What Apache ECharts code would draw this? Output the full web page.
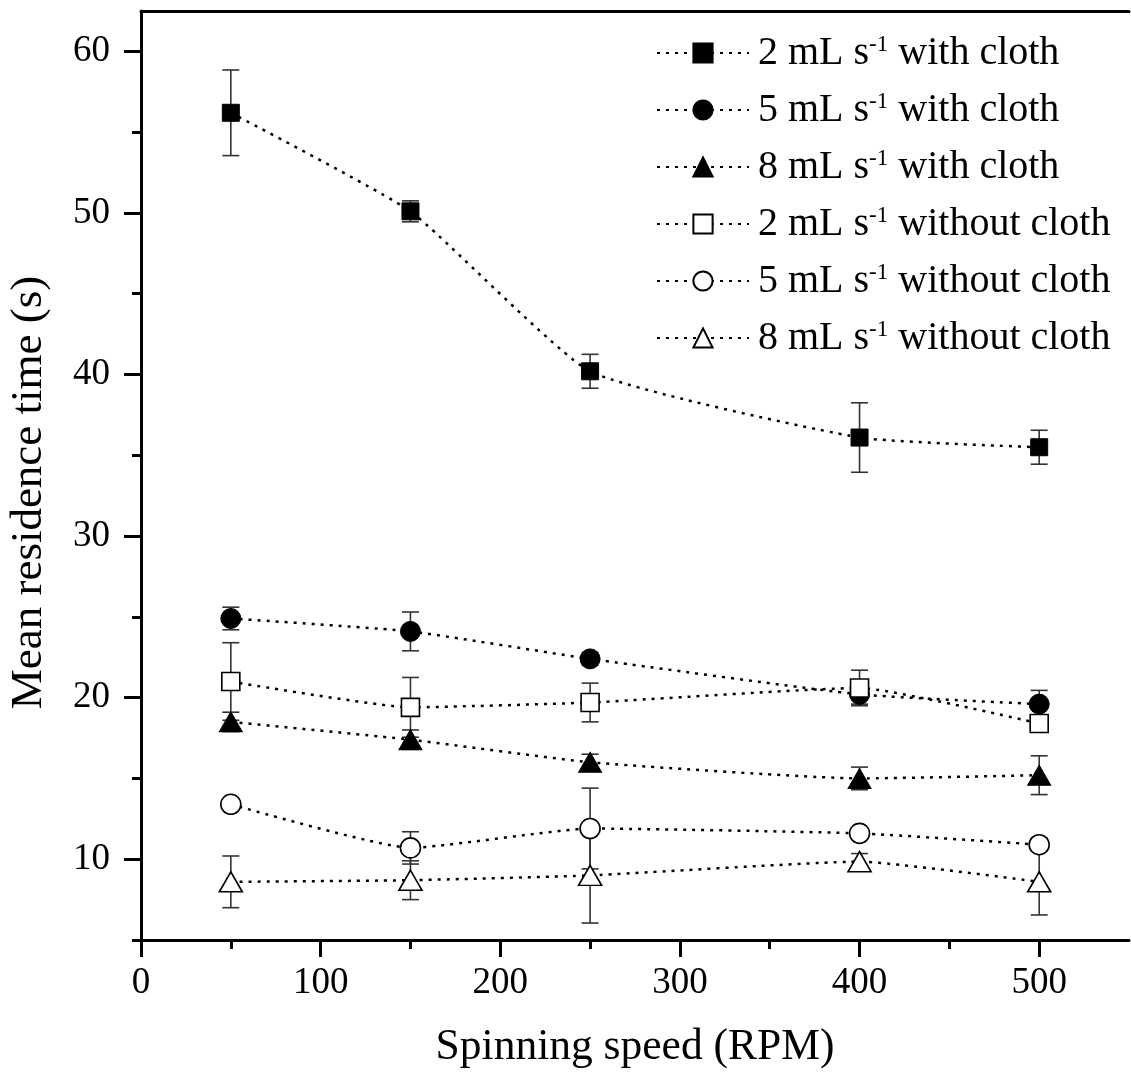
<!DOCTYPE html>
<html>
<head>
<meta charset="utf-8">
<script src="https://cdn.jsdelivr.net/npm/echarts@6/dist/echarts.min.js"></script>
<style>
  html, body { margin: 0; padding: 0; background: #fff; }
  #chart { width: 1131px; height: 1075px; }
</style>
</head>
<body>
<div id="chart"></div>
<script>
// ---- Data ----
const speeds = [50, 150, 250, 400, 500];

const seriesNames = [
  '2 mL s-1 with cloth',
  '5 mL s-1 with cloth',
  '8 mL s-1 with cloth',
  '2 mL s-1 without cloth',
  '5 mL s-1 without cloth',
  '8 mL s-1 without cloth'
];

const mean2With    = [56.2, 50.1, 40.2, 36.1, 35.5];
const err2With     = [2.65, 0.65, 1.05, 2.15, 1.05];
const mean5With    = [24.9, 24.1, 22.4, 20.2, 19.6];
const err5With     = [0.7, 1.2, 0.4, 0.6, 0.85];
const mean8With    = [18.5, 17.4, 16.0, 15.0, 15.2];
const err8With     = [0.6, 0.6, 0.5, 0.7, 1.2];
const mean2Without = [21.0, 19.4, 19.7, 20.6, 18.4];
const err2Without  = [2.4, 1.85, 1.2, 1.1, 0.4];
const mean5Without = [13.4, 10.7, 11.9, 11.6, 10.9];
const err5Without  = [0.3, 1.0, 2.5, 0.3, 0.4];
const mean8Without = [8.6, 8.7, 9.0, 9.85, 8.6];
const err8Without  = [1.6, 1.2, 2.95, 0.5, 2.05];

const xMajorTicks = [0, 100, 200, 300, 400, 500];
const xMinorTicks = [50, 150, 250, 350, 450];
const yMajorTicks = [10, 20, 30, 40, 50, 60];
const yMinorTicks = [5, 15, 25, 35, 45, 55];

// ---- Build options ----
const FONT = 'Liberation Serif';
const means = [mean2With, mean5With, mean8With, mean2Without, mean5Without, mean8Without];
const errs  = [err2With, err5With, err8With, err2Without, err5Without, err8Without];
const symbols = ['rect', 'circle', 'triangle', 'rect', 'circle', 'triangle'];
const symSizes = [17, 20, [23, 20], 18, 20, [23, 20]];
const filled = [true, true, true, false, false, false];

const lineSeries = seriesNames.map((name, i) => ({
  name: name,
  type: 'line',
  xAxisIndex: 0,
  yAxisIndex: 0,
  data: speeds.map((x, j) => [x, means[i][j]]),
  smooth: 0.15,
  symbol: symbols[i],
  symbolSize: symSizes[i],
  showSymbol: true,
  z: 3,
  lineStyle: { color: '#000', width: 2.5, type: [3, 6] },
  itemStyle: filled[i]
    ? { color: '#000', borderColor: '#000', borderWidth: 1 }
    : { color: '#fff', borderColor: '#000', borderWidth: 1.6 },
  emphasis: { disabled: true }
}));

const errData = [];
means.forEach((m, i) => {
  speeds.forEach((x, j) => {
    errData.push([x, m[j] - errs[i][j], m[j] + errs[i][j]]);
  });
});

const errSeries = {
  type: 'custom',
  xAxisIndex: 0,
  yAxisIndex: 0,
  z: 2,
  data: errData,
  encode: { x: 0, y: [1, 2] },
  renderItem: function (params, api) {
    const x = api.value(0);
    const lo = api.coord([x, api.value(1)]);
    const hi = api.coord([x, api.value(2)]);
    const hw = 8.5;
    const st = { stroke: '#333', lineWidth: 1.6 };
    return {
      type: 'group',
      children: [
        { type: 'line', shape: { x1: hi[0], y1: hi[1], x2: lo[0], y2: lo[1] }, style: st },
        { type: 'line', shape: { x1: hi[0] - hw, y1: hi[1], x2: hi[0] + hw, y2: hi[1] }, style: st },
        { type: 'line', shape: { x1: lo[0] - hw, y1: lo[1], x2: lo[0] + hw, y2: lo[1] }, style: st }
      ]
    };
  }
};

const gridBox = { left: 141, top: 11, right: 2, bottom: 135, outerBoundsMode: 'none' };

const option = {
  animation: false,
  backgroundColor: '#fff',
  grid: [Object.assign({}, gridBox), Object.assign({}, gridBox)],
  xAxis: [
    {
      gridIndex: 0, type: 'value', min: 0, max: 550, position: 'bottom',
      axisLine: { show: true, lineStyle: { color: '#000', width: 3 } },
      axisTick: { show: true, customValues: xMajorTicks, length: 17, lineStyle: { color: '#000', width: 3 } },
      axisLabel: { customValues: xMajorTicks, color: '#000', fontFamily: FONT, fontSize: 37, margin: 25 },
      splitLine: { show: false },
      name: 'Spinning speed (RPM)', nameLocation: 'middle', nameGap: 86,
      nameTextStyle: { color: '#000', fontFamily: FONT, fontSize: 43.5 }
    },
    {
      gridIndex: 1, type: 'value', min: 0, max: 550, position: 'bottom',
      axisLine: { show: false },
      axisTick: { show: true, customValues: xMinorTicks, length: 9, lineStyle: { color: '#000', width: 3 } },
      axisLabel: { show: false },
      splitLine: { show: false }
    },
    {
      gridIndex: 1, type: 'value', min: 0, max: 550, position: 'top',
      axisLine: { show: true, lineStyle: { color: '#000', width: 3 } },
      axisTick: { show: false },
      axisLabel: { show: false },
      splitLine: { show: false }
    }
  ],
  yAxis: [
    {
      gridIndex: 0, type: 'value', min: 5, max: 62.5, position: 'left',
      axisLine: { show: true, lineStyle: { color: '#000', width: 3 } },
      axisTick: { show: true, customValues: yMajorTicks, length: 17, lineStyle: { color: '#000', width: 3 } },
      axisLabel: { customValues: yMajorTicks, color: '#000', fontFamily: FONT, fontSize: 37, margin: 31 },
      splitLine: { show: false },
      name: 'Mean residence time (s)', nameLocation: 'middle', nameGap: 89,
      nameTextStyle: { color: '#000', fontFamily: FONT, fontSize: 45, padding: [0, 34, 0, 0] }
    },
    {
      gridIndex: 1, type: 'value', min: 5, max: 62.5, position: 'left',
      axisLine: { show: false },
      axisTick: { show: true, customValues: yMinorTicks, length: 9, lineStyle: { color: '#000', width: 3 } },
      axisLabel: { show: false },
      splitLine: { show: false }
    }
  ],
  legend: {
    data: seriesNames,
    orient: 'vertical',
    left: 656,
    top: 33,
    padding: 0,
    itemWidth: 92,
    itemHeight: 24,
    itemGap: 17,
    selectedMode: false,
    formatter: function (name) {
      const parts = name.split('s-1');
      return '{n|' + parts[0] + 's}{sup|-1}{n|' + parts[1] + '}';
    },
    textStyle: {
      color: '#000',
      fontFamily: FONT,
      padding: [0, 0, 0, 4],
      rich: {
        n: { fontFamily: FONT, fontSize: 40, color: '#000', lineHeight: 40 },
        sup: { fontFamily: FONT, fontSize: 23, color: '#000', lineHeight: 22, verticalAlign: 'top' }
      }
    }
  },
  series: [errSeries].concat(lineSeries)
};

const chart = echarts.init(document.getElementById('chart'), null, { renderer: 'canvas' });
chart.setOption(option);
</script>
</body>
</html>
